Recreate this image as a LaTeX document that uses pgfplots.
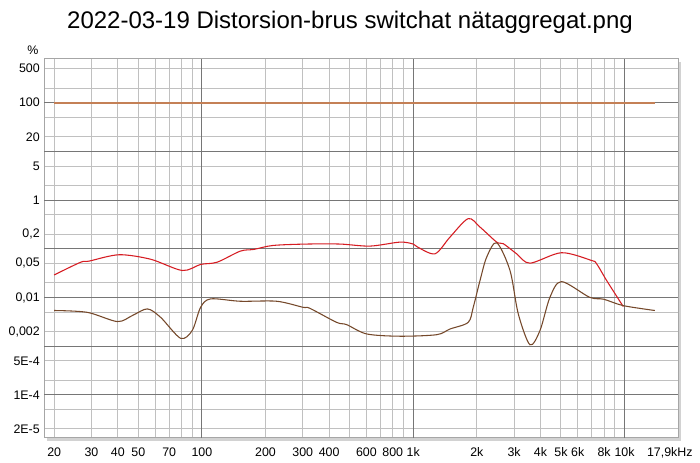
\documentclass[border=0pt]{standalone}
\usepackage{pgfplots}
\pgfplotsset{compat=1.18}
\usepackage{fontspec}
\setmainfont{Liberation Sans}

\definecolor{thdred}{RGB}{214,28,34}
\definecolor{noisebrown}{RGB}{117,72,42}
\definecolor{fundline}{RGB}{196,128,86}
\definecolor{gridlight}{RGB}{192,192,192}
\definecolor{griddark}{RGB}{118,118,118}

\begin{document}
\begin{tikzpicture}[x=0.75pt,y=0.75pt]
% drop shadow of the plot frame
\fill[gray!35] (3,-3) rectangle (637,376);
\begin{axis}[
  scale only axis,
  width=475.5pt, height=284.25pt,
  xmode=log, ymode=log,
  xmin=17.9, xmax=17900,
  ymin=1.3e-5, ymax=790,
  clip mode=individual,
  axis background/.style={fill=white},
  axis line style={draw=gray!70, line width=0.75pt},
  major tick length=0pt, minor tick length=0pt,
  grid=both,
  major grid style={gridlight, line width=0.75pt},
  minor grid style={gridlight, line width=0.75pt},
  xtick={20,30,40,50,70,100,200,300,400,600,800,1000,2000,3000,4000,5000,6000,8000,10000},
  xticklabels={20,30,40,50,70,100,200,300,400,600,800,1k,2k,3k,4k,5k,6k,8k,10k},
  minor xtick={60,80,90,500,700,900,7000,9000},
  extra x ticks={100,1000,10000},
  extra x tick labels={,,},
  extra x tick style={grid=major, major grid style={griddark, line width=0.75pt}},
  ytick={2e-5,1e-4,5e-4,2e-3,1e-2,5e-2,0.2,1,5,20,100,500},
  yticklabels={2E-5,1E-4,5E-4,{0,002},{0,01},{0,05},{0,2},1,5,20,100,500},
  minor ytick={5e-5,2e-4,1e-3,5e-3,2e-2,0.1,0.5,2,10,50,200},
  extra y ticks={1e-4,1e-3,1e-2,0.1,1,10,100},
  extra y tick labels={,,,,,,},
  extra y tick style={grid=major, major grid style={griddark, line width=0.75pt}},
  tick label style={font=\fontsize{9.3}{11}\selectfont},
  xticklabel style={anchor=north, inner sep=0pt, yshift=-7.2pt},
  yticklabel style={anchor=east, inner sep=0pt, xshift=-3pt},
]
% fundamental at 100 %
\addplot[fundline, line width=1.4pt] coordinates {(20,100) (13900,100)};

% THD+N
\addplot[thdred, line width=0.8pt, smooth, tension=0.5] coordinates {
  (20,0.029) (26.7,0.053) (29.2,0.0557) (40.5,0.0754) (57.2,0.061)
  (80.8,0.0358) (98.6,0.0477) (118,0.053) (152,0.0895) (176,0.097)
  (217,0.117) (313,0.125) (450,0.125) (624,0.1135) (865,0.137)
  (1000,0.125) (1050,0.108) (1268,0.079) (1493,0.174) (1820,0.416)
  (2070,0.279) (2483,0.137) (2669,0.127) (3084,0.079) (3567,0.0506)
  (5030,0.083) (6980,0.0575) (7380,0.049) (8225,0.0223) (9860,0.0065)
};

% noise / harmonics
\addplot[noisebrown, line width=0.8pt, smooth, tension=0.5] coordinates {
  (20,0.0054) (28.7,0.00495) (39.8,0.0032) (46.8,0.00424) (55.2,0.00582)
  (63.8,0.0039) (79.3,0.00145) (90,0.0021) (98.6,0.00628) (110,0.00935)
  (152,0.00836) (226,0.00836) (301,0.00628) (324,0.006) (434,0.00308)
  (484,0.00277) (603,0.00178) (865,0.0016) (1291,0.00172) (1493,0.00225)
  (1820,0.00308) (1923,0.00628) (2070,0.0223) (2225,0.067) (2483,0.133)
  (2870,0.0358) (3141,0.0046) (3567,0.00107) (3980,0.0021) (4436,0.0101)
  (5030,0.0212) (6830,0.0101) (7970,0.0092) (9860,0.0068) (13900,0.0054)
};

\node[font=\fontsize{9.3}{11}\selectfont] at (axis description cs:-0.0174,1.0237) {\%};
\node[font=\fontsize{9.3}{11}\selectfont, anchor=north, inner sep=0pt, yshift=-7.2pt]
  at (axis description cs:0.987,0) {17,9kHz};
\end{axis}
\node[font=\fontsize{18}{21}\selectfont] at (306,416) {2022-03-19 Distorsion-brus switchat nätaggregat.png};
\pgfresetboundingbox
\path[use as bounding box] (-44,-25) rectangle (656,438);
\end{tikzpicture}
\end{document}
